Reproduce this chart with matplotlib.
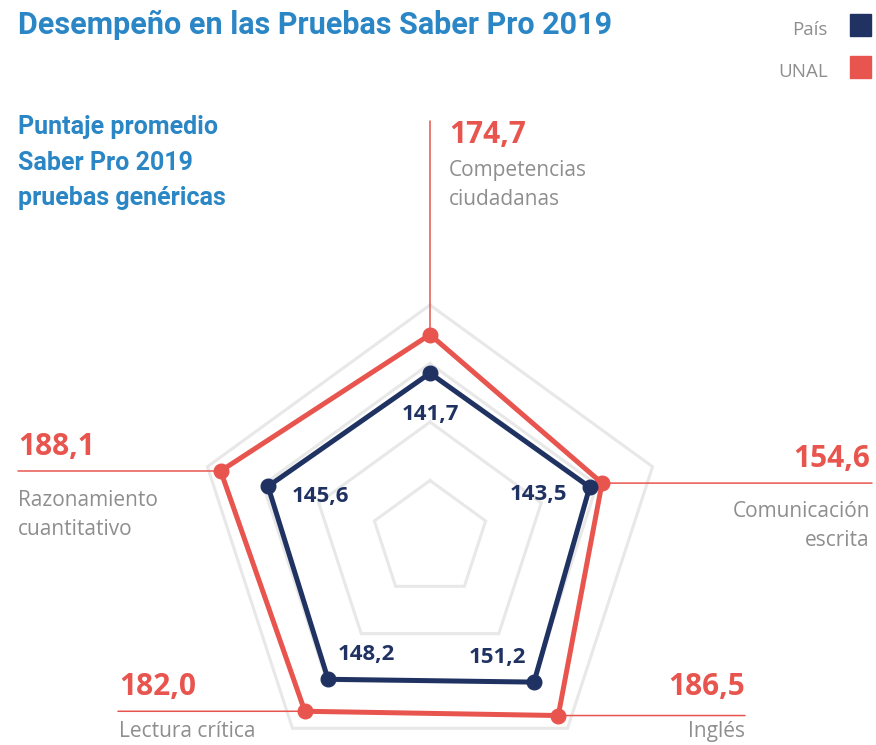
import numpy as np
import matplotlib
matplotlib.use("Agg")
import matplotlib.pyplot as plt

# --- data -------------------------------------------------------------
CATEGORIES = ["Competencias\nciudadanas", "Comunicación\nescrita", "Inglés",
              "Lectura crítica", "Razonamiento\ncuantitativo"]
UNAL = [174.7, 154.6, 186.5, 182.0, 188.1]
PAIS = [141.7, 143.5, 151.2, 148.2, 145.6]
RING_LEVELS = [50, 100, 150, 200]
SERIES_NAMES = ["País", "UNAL"]

RED = "#e8554e"
NAVY = "#1f3261"
BLUE = "#2b86c5"
GRAY = "#8e8e8e"
GRID = "#e8e8e8"

COND = ["Roboto", "DejaVu Sans"]
SANS = ["Open Sans", "DejaVu Sans"]

W, H = 876, 745
fig = plt.figure(figsize=(W / 100, H / 100), dpi=100)

# polar axes: centre at (430, 539) px from top, r=210 -> 245.7 px
cx, cy, rad = 430, 539, 245.7
R_LIM = 210
ax = fig.add_axes([(cx - rad) / W, (H - cy - rad) / H, 2 * rad / W, 2 * rad / H],
                  projection="polar")
ax.set_theta_zero_location("N")
ax.set_theta_direction(-1)
ax.set_ylim(0, R_LIM)
ax.axis("off")

theta = np.deg2rad(np.arange(len(CATEGORIES)) * 360 / len(CATEGORIES))
th_c = np.append(theta, theta[0])

for lvl in RING_LEVELS:
    ax.plot(th_c, [lvl] * len(th_c), color=GRID, lw=2.2, zorder=1, solid_joinstyle="miter")

ax.plot(th_c, UNAL + UNAL[:1], color=RED, lw=3.6, zorder=3, solid_joinstyle="miter")
ax.plot(theta, UNAL, "o", color=RED, ms=10.5, zorder=3)
ax.plot(th_c, PAIS + PAIS[:1], color=NAVY, lw=3.6, zorder=4, solid_joinstyle="miter")
ax.plot(theta, PAIS, "o", color=NAVY, ms=10.5, zorder=4)

# leader lines from each UNAL point out to its label
fig.canvas.draw()
pts = ax.transData.transform(np.column_stack([theta, UNAL]))
ends = [(pts[0][0], H - 121), (872, pts[1][1]), (745, pts[2][1]),
        (118, pts[3][1]), (18, pts[4][1])]
for (px, py), end in zip(pts, ends):
    ax.annotate("", xy=(px, py), xycoords="figure pixels", xytext=end,
                textcoords="figure pixels", annotation_clip=False,
                arrowprops=dict(arrowstyle="-", color=RED, lw=1.1,
                                shrinkA=0, shrinkB=0), zorder=2)

# UNAL value + category labels (x, baseline of value, gap to category, align)
lab_pos = [(449, 143, 33, "left"), (870, 467, 50, "right"), (745, 695, 42, "right"),
           (119, 695, 42, "left"), (18, 455, 51, "left")]
for (x, yb, gap, ha), val, cat in zip(lab_pos, UNAL, CATEGORIES):
    fig.text(x / W, 1 - yb / H, f"{val:.1f}".replace(".", ","), ha=ha, va="baseline",
             color=RED, fontsize=21.5, fontweight="bold", family=SANS)
    for i, line in enumerate(cat.split("\n")):
        fig.text(x / W, 1 - (yb + gap + i * 29) / H, line, ha=ha, va="baseline",
                 color=GRAY, fontsize=15, family=SANS)

# País value labels, offset from the points (pixels)
offs = [(0, -47, "center"), (-22, -13, "right"), (-8, 19, "right"),
        (10, 19, "left"), (24, -16, "left")]
for t, v, (dx, dy, ha) in zip(theta, PAIS, offs):
    ax.annotate(f"{v:.1f}".replace(".", ","), xy=(t, v), xytext=(dx, dy),
                textcoords="offset pixels", ha=ha, va="baseline", color=NAVY,
                fontsize=16, fontweight="bold", family=SANS, zorder=5)

# titles
fig.text(18 / W, 1 - 34 / H, "Desempeño en las Pruebas Saber Pro 2019", color=BLUE,
         fontsize=22, fontweight="bold", family=COND, va="baseline")
for i, line in enumerate(["Puntaje promedio", "Saber Pro 2019", "pruebas genéricas"]):
    fig.text(18 / W, 1 - (134 + i * 35.5) / H, line, color=BLUE, fontsize=18,
             fontweight="bold", family=COND, va="baseline")

# legend
for name, col, yb in zip(SERIES_NAMES, [NAVY, RED], [35, 77]):
    fig.text(828 / W, 1 - yb / H, name, ha="right", va="baseline", color=GRAY,
             fontsize=13.5, family=SANS)
    fig.patches.append(plt.Rectangle((850 / W, 1 - (yb + 1) / H), 21 / W, 22 / H,
                                     transform=fig.transFigure, color=col))

fig.savefig("out.png", dpi=100)
